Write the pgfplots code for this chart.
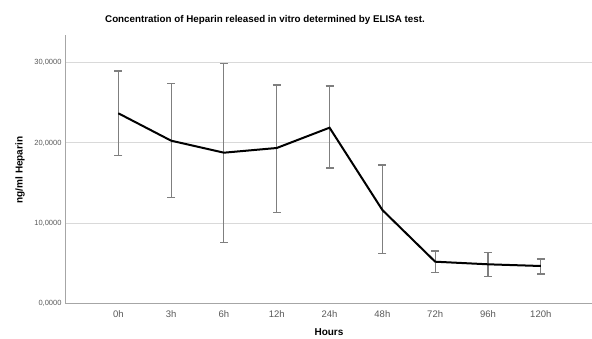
\documentclass[border=0pt]{standalone}
\usepackage{pgfplots}
\pgfplotsset{compat=1.18}
\usepackage{fontspec}
\setmainfont{Liberation Sans}
\definecolor{gridgray}{HTML}{D9D9D9}
\definecolor{axgray}{HTML}{A6A6A6}
\definecolor{ebgray}{HTML}{7F7F7F}
\definecolor{lblgray}{HTML}{595959}
\begin{document}
\begin{tikzpicture}[x=1pt,y=1pt]
\useasboundingbox (0,0) rectangle (592,-338);
\node[font=\bfseries\fontsize{9.8}{11}\selectfont] at (265,-20) {Concentration of Heparin released in vitro determined by ELISA test.};
\node[font=\bfseries\fontsize{10}{12}\selectfont, rotate=90] at (20,-170) {ng/ml Heparin};
\node[font=\bfseries\fontsize{10}{12}\selectfont] at (329,-332) {Hours};
\begin{axis}[
  at={(65pt,-303.3pt)}, anchor=south west,
  scale only axis, width=527pt, height=268.3pt,
  xmin=-1.01, xmax=8.97, ymin=0, ymax=33450,
  axis lines*=left,
  axis line style={axgray, line width=0.8pt},
  xtick={0,...,8},
  xticklabels={0h,3h,6h,12h,24h,48h,72h,96h,120h},
  ytick={0,10000,20000,30000},
  yticklabels={{0,0000},{10,0000},{20,0000},{30,0000}},
  major tick length=0pt,
  ymajorgrids, grid style={gridgray, line width=0.8pt},
  xticklabel style={font=\fontsize{9.5}{11}\selectfont, text=lblgray, yshift=-4pt},
  yticklabel style={font=\fontsize{7.5}{9}\selectfont, text=lblgray},
  scaled y ticks=false,
  clip=false,
]
\addplot[draw=none, mark=none, forget plot,
  error bars/.cd, y dir=both, y explicit,
  error bar style={ebgray, line width=1.1pt, draw opacity=1},
  error mark options={ebgray, rotate=90, mark size=4pt, line width=1.1pt, draw opacity=1}]
  coordinates {
  (0,23690) += (0,5275) -= (0,5286)
  (1,20274) += (0,7108) -= (0,7057)
  (2,18778) += (0,11147) -= (0,11172)
  (3,19364) += (0,7856) -= (0,8017)
  (4,21895) += (0,5200) -= (0,5025)
  (5,11633) += (0,5611) -= (0,5399)
  (6,5187) += (0,1334) -= (0,1372)
  (7,4863) += (0,1496) -= (0,1546)
  (8,4651) += (0,873) -= (0,998)
  };
\addplot[black, line width=2pt, mark=none] coordinates {
  (0,23690) (1,20274) (2,18778) (3,19364) (4,21895)
  (5,11633) (6,5187) (7,4863) (8,4651)
  };
\end{axis}
\end{tikzpicture}
\end{document}
